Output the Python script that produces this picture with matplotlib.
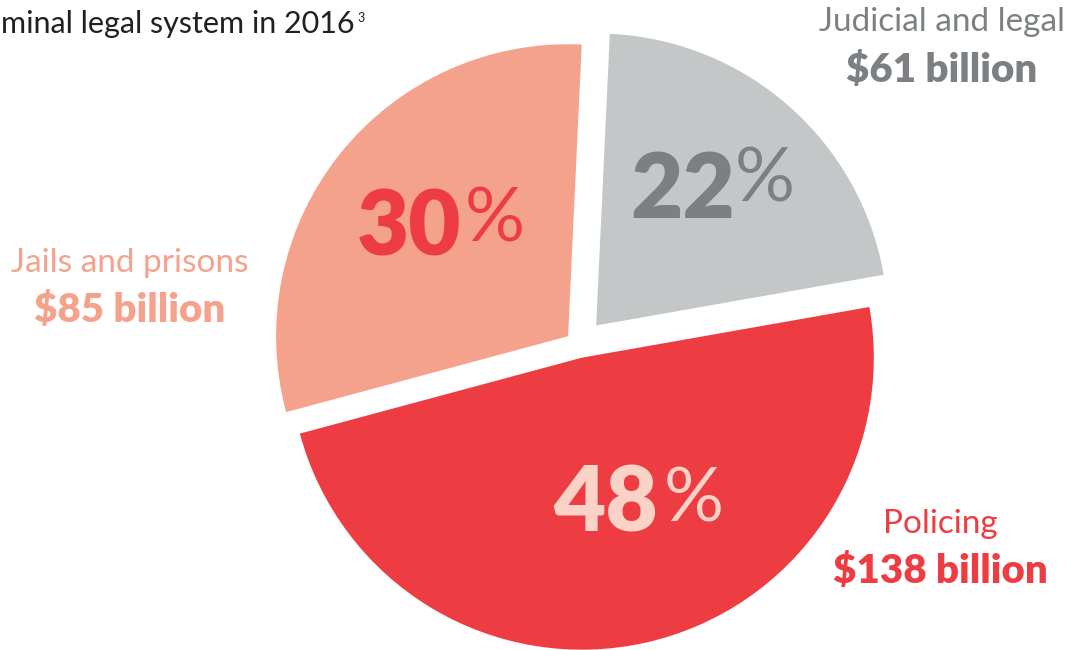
import matplotlib
matplotlib.use("Agg")
import matplotlib.pyplot as plt

# data (billions of dollars, 2016)
categories = ['Judicial and legal', 'Jails and prisons', 'Policing']
billions = [61, 85, 138]
pct_labels = ['22', '30', '48']

wedge_colors = ['#C4C7C7', '#F4A28C', '#EE3D42']
name_colors = ['#7C8083', '#F4A28C', '#EE3D42']
pct_colors = ['#7C8083', '#EE3D42', '#FAD3C6']

plt.rcParams['font.family'] = ['Lato', 'DejaVu Sans']

fig = plt.figure(figsize=(10.77, 6.5), dpi=100)
ax = fig.add_axes([0, 0, 1, 1])

# explode is in data units here (axes are in pixels)
ax.pie(billions, colors=wedge_colors, startangle=10, counterclock=True,
       explode=[26, 14, 13], radius=292, center=(579, 305),
       wedgeprops=dict(linewidth=0), frame=True)
ax.set_xlim(0, 1077)
ax.set_ylim(0, 650)
ax.set_aspect('equal')
ax.axis('off')

# big percentages inside the wedges
pct_pos = [(630, 432, 735, 504), (357, 395, 465, 465), (553, 118, 664, 184)]
for txt, col, (x, y, px, py) in zip(pct_labels, pct_colors, pct_pos):
    ax.text(x, y, txt, color=col, fontsize=65, fontweight='heavy',
            ha='left', va='baseline')
    ax.text(px, py, '%', color=col, fontsize=54, fontweight='normal',
            ha='left', va='top')

# category names and amounts
name_pos = [(942, 619, 568), (130, 378, 328), (940, 117, 67)]
for name, amt, col, (x, y1, y2) in zip(categories, billions, name_colors, name_pos):
    ax.text(x, y1, name, color=col, fontsize=24, ha='center', va='baseline')
    ax.text(x, y2, f'${amt} billion', color=col, fontsize=29,
            fontweight='heavy', ha='center', va='baseline')

# title (cut on the left in the source)
ax.text(1, 617, 'minal legal system in 2016', color='#231F20',
        fontsize=22, ha='left', va='baseline')
ax.text(357, 628, '3', color='#231F20', fontsize=9, ha='left', va='baseline')

fig.savefig('out.png', dpi=100)
